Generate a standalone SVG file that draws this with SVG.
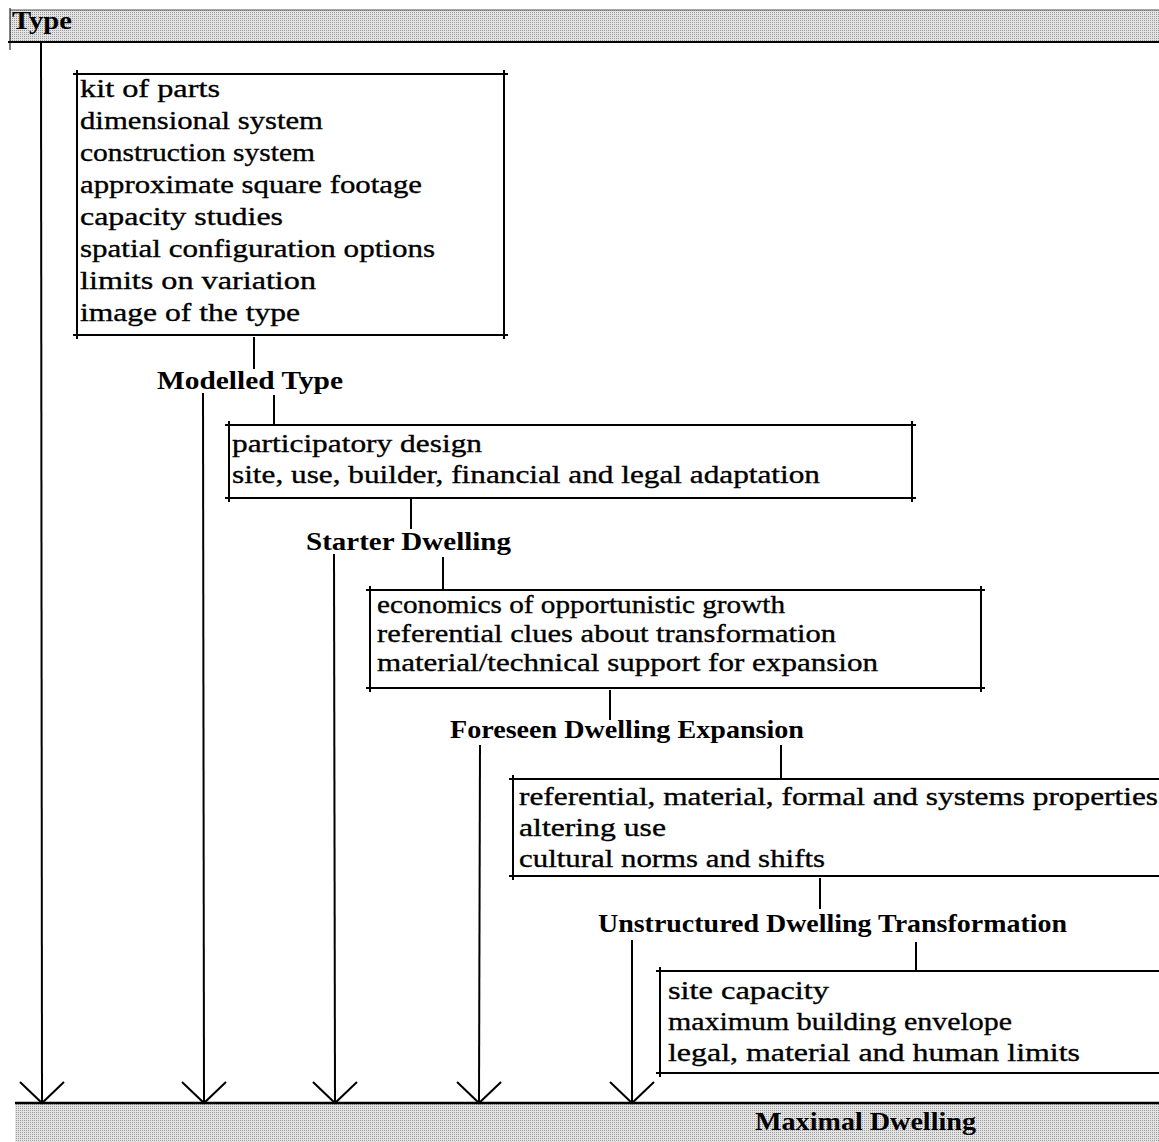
<svg xmlns="http://www.w3.org/2000/svg" width="1159" height="1142" viewBox="0 0 1159 1142">
<defs>
<pattern id="dots" width="2" height="2" patternUnits="userSpaceOnUse">
<rect width="2" height="2" fill="#e4e4e4"/>
<rect width="1" height="1" fill="#9a9a9a"/>
</pattern>
<style>
.ln{stroke:#000;stroke-width:2;fill:none}
.bx{stroke:#000;stroke-width:2;fill:none}
.it{font-family:"Liberation Serif","Times New Roman",serif;font-size:26px;fill:#000;stroke:#000;stroke-width:0.35}
.hd{font-family:"Liberation Serif","Times New Roman",serif;font-size:26px;font-weight:bold;fill:#000}
</style>
<marker id="arr" markerWidth="30" markerHeight="50" refX="27" refY="25" orient="auto" markerUnits="userSpaceOnUse" viewBox="0 0 30 50">
<path d="M6 3 L27 25 L6 47" stroke="#000" stroke-width="2" fill="none"/>
</marker>
</defs>
<rect width="1159" height="1142" fill="#fff"/>

<g id="band-top">
<rect x="10" y="10" width="1149" height="32" fill="url(#dots)"/>
<line x1="10" y1="10" x2="1159" y2="10" stroke="#555" stroke-width="1"/>
<line x1="8" y1="42" x2="1159" y2="42" stroke="#000" stroke-width="2"/>
<line x1="10" y1="8" x2="10" y2="50" stroke="#000" stroke-width="1"/>
<text class="hd" x="12" y="29" textLength="60" lengthAdjust="spacingAndGlyphs">Type</text>
</g>

<g id="band-bottom">
<rect x="15" y="1104" width="1144" height="38" fill="url(#dots)"/>
<line x1="15" y1="1103" x2="1159" y2="1103" stroke="#000" stroke-width="2.5"/>
<text class="hd" x="755" y="1130" textLength="221" lengthAdjust="spacingAndGlyphs">Maximal Dwelling</text>
</g>

<g id="connectors">
<line class="ln" x1="41" y1="42" x2="42" y2="1103" marker-end="url(#arr)"/>
<line class="ln" x1="203" y1="393" x2="204" y2="1103" marker-end="url(#arr)"/>
<line class="ln" x1="334" y1="554" x2="335" y2="1103" marker-end="url(#arr)"/>
<line class="ln" x1="480" y1="745" x2="479" y2="1103" marker-end="url(#arr)"/>
<line class="ln" x1="632" y1="940" x2="632" y2="1103" marker-end="url(#arr)"/>
<line class="ln" x1="254" y1="337" x2="254" y2="369"/>
<line class="ln" x1="274" y1="395" x2="274" y2="424"/>
<line class="ln" x1="411" y1="499" x2="411" y2="529"/>
<line class="ln" x1="443" y1="557" x2="443" y2="589"/>
<line class="ln" x1="610" y1="690" x2="610" y2="720"/>
<line class="ln" x1="781" y1="745" x2="781" y2="778"/>
<line class="ln" x1="820" y1="878" x2="820" y2="909"/>
<line class="ln" x1="916" y1="942" x2="916" y2="970"/>
</g>

<g id="box-type">
<path class="bx" d="M73 74 H508 M77 70 V339 M73 335 H508 M504 70 V339"/>
<text class="it" x="80" y="97" textLength="140" lengthAdjust="spacingAndGlyphs">kit of parts</text>
<text class="it" x="80" y="129" textLength="243" lengthAdjust="spacingAndGlyphs">dimensional system</text>
<text class="it" x="80" y="161" textLength="235" lengthAdjust="spacingAndGlyphs">construction system</text>
<text class="it" x="80" y="193" textLength="342" lengthAdjust="spacingAndGlyphs">approximate square footage</text>
<text class="it" x="80" y="225" textLength="203" lengthAdjust="spacingAndGlyphs">capacity studies</text>
<text class="it" x="80" y="257" textLength="355" lengthAdjust="spacingAndGlyphs">spatial configuration options</text>
<text class="it" x="80" y="289" textLength="236" lengthAdjust="spacingAndGlyphs">limits on variation</text>
<text class="it" x="80" y="321" textLength="220" lengthAdjust="spacingAndGlyphs">image of the type</text>
</g>

<g id="modelled-type">
<text class="hd" x="157" y="389" textLength="186" lengthAdjust="spacingAndGlyphs">Modelled Type</text>
</g>

<g id="box-modelled">
<path class="bx" d="M225 425 H916 M229 421 V502 M225 498 H916 M912 421 V502"/>
<text class="it" x="232" y="452" textLength="250" lengthAdjust="spacingAndGlyphs">participatory design</text>
<text class="it" x="232" y="483" textLength="588" lengthAdjust="spacingAndGlyphs">site, use, builder, financial and legal adaptation</text>
</g>

<g id="starter-dwelling">
<text class="hd" x="306" y="550" textLength="205" lengthAdjust="spacingAndGlyphs">Starter Dwelling</text>
</g>

<g id="box-starter">
<path class="bx" d="M366 590 H985 M370 586 V692 M366 688 H985 M981 586 V692"/>
<text class="it" x="377" y="613" textLength="408" lengthAdjust="spacingAndGlyphs">economics of opportunistic growth</text>
<text class="it" x="377" y="642" textLength="459" lengthAdjust="spacingAndGlyphs">referential clues about transformation</text>
<text class="it" x="377" y="671" textLength="501" lengthAdjust="spacingAndGlyphs">material/technical support for expansion</text>
</g>

<g id="foreseen-expansion">
<text class="hd" x="450" y="738" textLength="354" lengthAdjust="spacingAndGlyphs">Foreseen Dwelling Expansion</text>
</g>

<g id="box-foreseen">
<path class="bx" d="M509 779 H1165 M513 775 V880 M509 876 H1165"/>
<text class="it" x="519" y="805" textLength="639" lengthAdjust="spacingAndGlyphs">referential, material, formal and systems properties</text>
<text class="it" x="519" y="836" textLength="147" lengthAdjust="spacingAndGlyphs">altering use</text>
<text class="it" x="519" y="867" textLength="306" lengthAdjust="spacingAndGlyphs">cultural norms and shifts</text>
</g>

<g id="unstructured-transformation">
<text class="hd" x="598" y="932" textLength="469" lengthAdjust="spacingAndGlyphs">Unstructured Dwelling Transformation</text>
</g>

<g id="box-unstructured">
<path class="bx" d="M656 971 H1165 M660 967 V1077 M656 1073 H1165"/>
<text class="it" x="668" y="999" textLength="161" lengthAdjust="spacingAndGlyphs">site capacity</text>
<text class="it" x="668" y="1030" textLength="344" lengthAdjust="spacingAndGlyphs">maximum building envelope</text>
<text class="it" x="668" y="1061" textLength="412" lengthAdjust="spacingAndGlyphs">legal, material and human limits</text>
</g>
</svg>
